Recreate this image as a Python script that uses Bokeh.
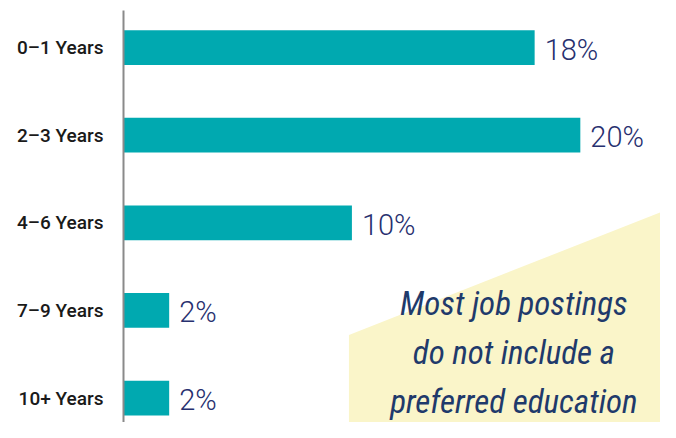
from bokeh.plotting import figure
from bokeh.models import Range1d, FixedTicker, ColumnDataSource, PolyAnnotation, Label
from bokeh.core.properties import value
from bokeh.embed import file_html
from bokeh.resources import INLINE

categories = ["0–1 Years", "2–3 Years", "4–6 Years", "7–9 Years", "10+ Years"]
percent = [18, 20, 10, 2, 2]
value_labels = ["18%", "20%", "10%", "2%", "2%"]
note_lines = ["Most job postings", "do not include a", "preferred education"]

positions = list(range(len(categories)))

src = ColumnDataSource(dict(y=positions, pct=percent, lbl=value_labels))

p = figure(width=660, height=422, output_backend="svg", toolbar_location=None,
           x_range=Range1d(0, 23.51), y_range=Range1d(4.279, -0.423),
           min_border_left=123, min_border_right=0, min_border_top=10, min_border_bottom=0)

p.outline_line_color = None
p.grid.visible = False
p.xaxis.visible = False
p.background_fill_color = "white"
p.border_fill_color = "white"

# yellow callout shape
p.add_layout(PolyAnnotation(xs=[9.87, 23.7, 23.7, 9.87], ys=[3.28, 1.86, 5.0, 5.0],
                            fill_color="#FAF5C9", fill_alpha=1.0, line_color=None,
                            level="underlay"))

p.hbar(y="y", right="pct", left=0, height=0.396, source=src,
       fill_color="#00A9B0", line_color=None)

p.text(x="pct", y="y", text="lbl", source=src, x_offset=10, y_offset=2,
       text_font=value("Roboto Light, Roboto"), text_font_size="29px", text_color="#27306F",
       text_baseline="middle", text_align="left")

ya = p.yaxis[0]
ya.ticker = FixedTicker(ticks=positions)
ya.major_label_overrides = {i: c for i, c in zip(positions, categories)}
ya.major_tick_line_color = None
ya.minor_tick_line_color = None
ya.axis_line_color = "#8A8A8A"
ya.axis_line_width = 2
ya.major_label_text_font = "Roboto Medium, Roboto"
ya.major_label_text_font_style = "normal"
ya.major_label_text_font_size = "19px"
ya.major_label_text_color = "#1A1A1A"
ya.major_label_standoff = 14

baselines = [2.92, 3.48, 4.04]
for line, yb in zip(note_lines, baselines):
    p.add_layout(Label(x=17.09, y=yb, text=line, text_align="center",
                       text_baseline="alphabetic", text_font="Roboto Condensed",
                       text_font_style="italic", text_font_size="33px",
                       text_color="#1F3A6B"))

open("out.html", "w").write(file_html(p, INLINE))
